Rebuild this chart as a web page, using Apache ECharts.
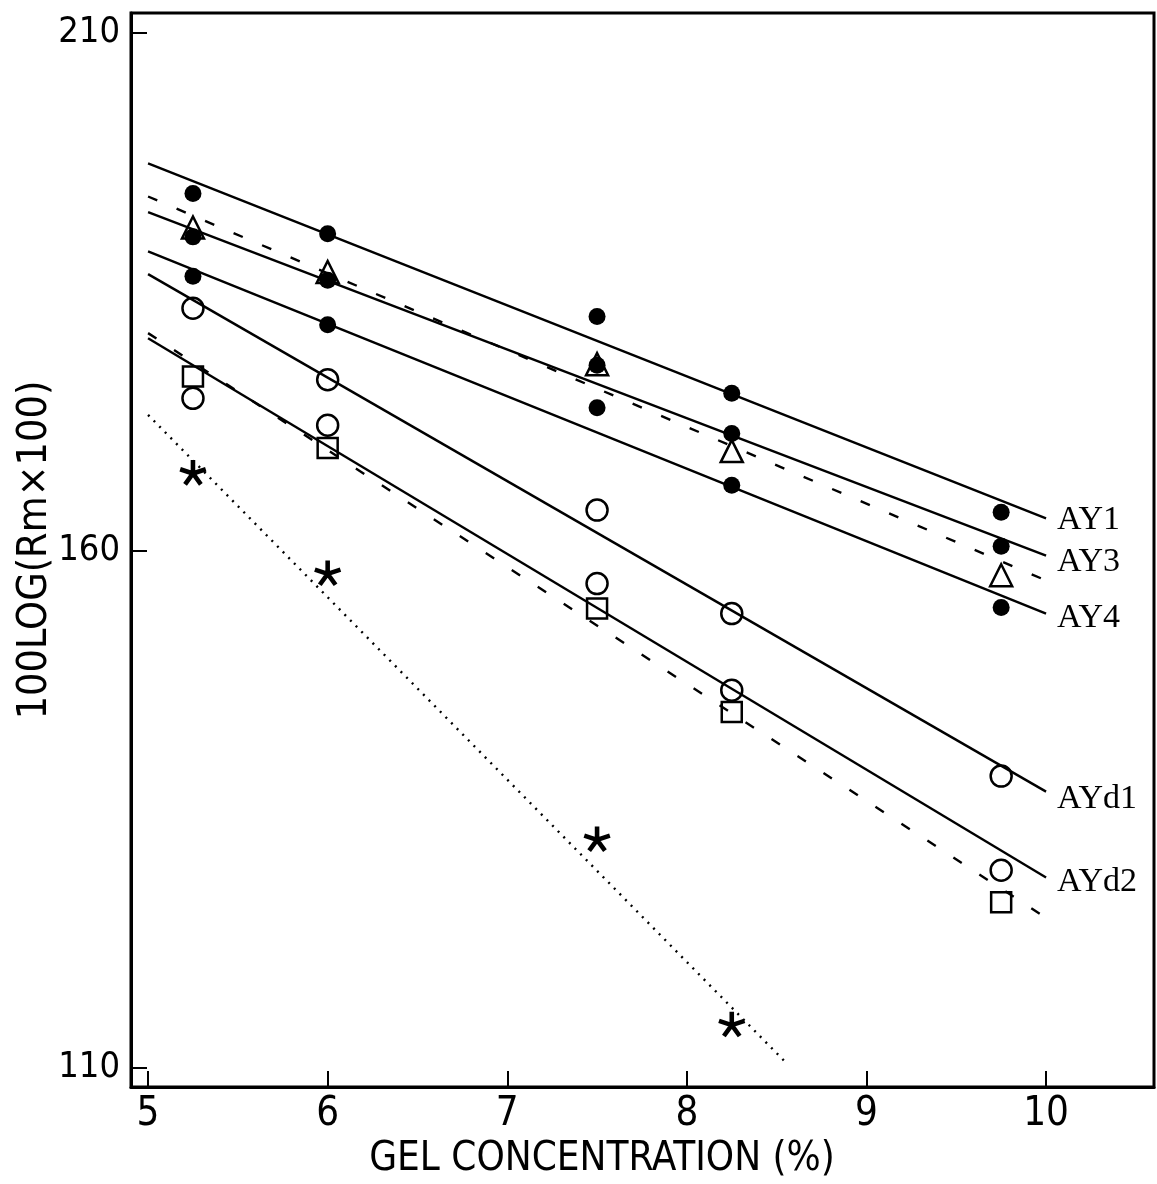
<!DOCTYPE html>
<html>
<head>
<meta charset="utf-8">
<script src="https://cdn.jsdelivr.net/npm/echarts@6/dist/echarts.min.js"></script>
<style>
  html, body { margin: 0; padding: 0; background: #fff; }
  #chart { width: 1157px; height: 1184px; }
</style>
</head>
<body>
<div id="chart"></div>
<script>
// measured points
const gelX = [5.25, 6, 7.5, 8.25, 9.75];
const ay1Points = [194.5, 190.6, 182.6, 175.2, 163.7];
const ay3Points = [190.3, 186.1, 177.9, 171.3, 160.4];
const ay4Points = [186.5, 181.8, 173.8, 166.3, 154.5];
const trianglePoints = [191.2, 186.9, 178.0, 169.6, 157.6];
const ayd1Points = [183.4, 176.5, 163.9, 153.9, 138.2];
const ayd2Points = [174.7, 172.1, 156.8, 146.5, 129.1];
const squarePoints = [176.8, 169.9, 154.4, 144.4, 126.0];
const starX = [5.25, 6, 7.5, 8.25];
const starPoints = [167.5, 157.8, 132.1, 114.2];

// fitted lines (start / end)
const fitX = [5, 10];
const ay1Fit = [197.4, 163.1];
const ay3Fit = [192.7, 159.5];
const ay4Fit = [188.9, 153.9];
const triangleFit = [194.2, 157.1];
const ayd1Fit = [186.7, 136.7];
const ayd2Fit = [180.5, 128.4];
const squareFit = [181.0, 124.5];
const starFitX = [5, 8.547];
const starFit = [173.1, 110.6];

const xTicks = [5, 6, 7, 8, 9, 10];
const yTicks = [110, 160, 210];

const sans = "'Liberation Sans Narrow', 'DejaVu Sans Condensed', 'Noto Sans', sans-serif";
const serif = "'Liberation Serif', 'DejaVu Serif', serif";

const pairs = (xs, ys) => xs.map((x, i) => [x, ys[i]]);

// five-armed asterisk
function starPath() {
  const r = 10, w = 1.7;
  let d = "";
  [90, 18, -54, -126, 162].forEach(a => {
    const t = a * Math.PI / 180;
    const dx = Math.cos(t), dy = -Math.sin(t);
    const nx = -dy * w, ny = dx * w;
    const p = [
      [nx, ny], [dx * r + nx, dy * r + ny], [dx * r - nx, dy * r - ny], [-nx, -ny]
    ];
    d += "M" + p.map(q => q[0].toFixed(2) + " " + q[1].toFixed(2)).join(" L") + " Z ";
  });
  return "path://" + d;
}

function fitLine(name, xs, ys, type, dy) {
  const s = {
    name: name,
    type: "line",
    data: pairs(xs, ys),
    symbol: "none",
    silent: true,
    lineStyle: { color: "#000", width: 2.4, type: type }
  };
  if (dy !== undefined) {
    s.endLabel = {
      show: true, formatter: name, distance: 11, offset: [0, dy],
      fontFamily: serif, fontSize: 34, color: "#000"
    };
  }
  return s;
}

function marks(ys, symbol, size, filled, xs) {
  return {
    type: "scatter",
    data: pairs(xs || gelX, ys),
    symbol: symbol,
    symbolSize: size,
    symbolKeepAspect: true,
    itemStyle: filled
      ? { color: "#000", opacity: 1 }
      : { color: "rgba(0,0,0,0)", borderColor: "#000", borderWidth: 2.5, opacity: 1 }
  };
}

const chart = echarts.init(document.getElementById("chart"));
chart.setOption({
  animation: false,
  backgroundColor: "#fff",
  grid: {
    left: 131, right: 3, top: 13, bottom: 97,
    outerBoundsMode: "none",
    show: true, borderColor: "#000", borderWidth: 3
  },
  xAxis: {
    type: "value",
    min: 4.905,
    max: 10.601,
    axisLine: { lineStyle: { color: "#000", width: 3 } },
    axisTick: { inside: true, length: 16, customValues: xTicks, lineStyle: { color: "#000", width: 2 } },
    axisLabel: { customValues: xTicks, margin: 8, color: "#000", fontFamily: sans, fontSize: 40 },
    splitLine: { show: false }
  },
  yAxis: {
    type: "value",
    min: 108.16,
    max: 211.93,
    name: "100LOG(Rm×100)",
    nameLocation: "middle",
    nameGap: 75,
    nameMoveOverlap: false,
    nameTextStyle: { color: "#000", fontFamily: sans, fontSize: 41 },
    axisLine: { lineStyle: { color: "#000", width: 3 } },
    axisTick: { inside: true, length: 16, customValues: yTicks, lineStyle: { color: "#000", width: 2 } },
    axisLabel: { customValues: yTicks, margin: 11, color: "#000", fontFamily: sans, fontSize: 36 },
    splitLine: { show: false }
  },
  graphic: [{
    type: "text",
    x: 602, y: 1160,
    style: {
      text: "GEL CONCENTRATION (%)", fill: "#000",
      font: "40px " + sans, textAlign: "center", textVerticalAlign: "middle"
    }
  }],
  series: [
    fitLine("AY1", fitX, ay1Fit, "solid", 2),
    fitLine("AY3", fitX, ay3Fit, "solid", 6),
    fitLine("AY4", fitX, ay4Fit, "solid", 4),
    fitLine("AY3Δ", fitX, triangleFit, [10, 21]),
    fitLine("AYd1", fitX, ayd1Fit, "solid", 7),
    fitLine("AYd2", fitX, ayd2Fit, "solid", 5),
    fitLine("square", fitX, squareFit, [10, 21]),
    fitLine("star", starFitX, starFit, [2, 6]),
    marks(trianglePoints, "triangle", [22, 22], false),
    marks(ay1Points, "circle", 17, true),
    marks(ay3Points, "circle", 17, true),
    marks(ay4Points, "circle", 17, true),
    marks(ayd1Points, "circle", 21, false),
    marks(ayd2Points, "circle", 21, false),
    marks(squarePoints, "rect", 20, false),
    marks(starPoints, starPath(), 27, true, starX)
  ]
});
</script>
</body>
</html>
